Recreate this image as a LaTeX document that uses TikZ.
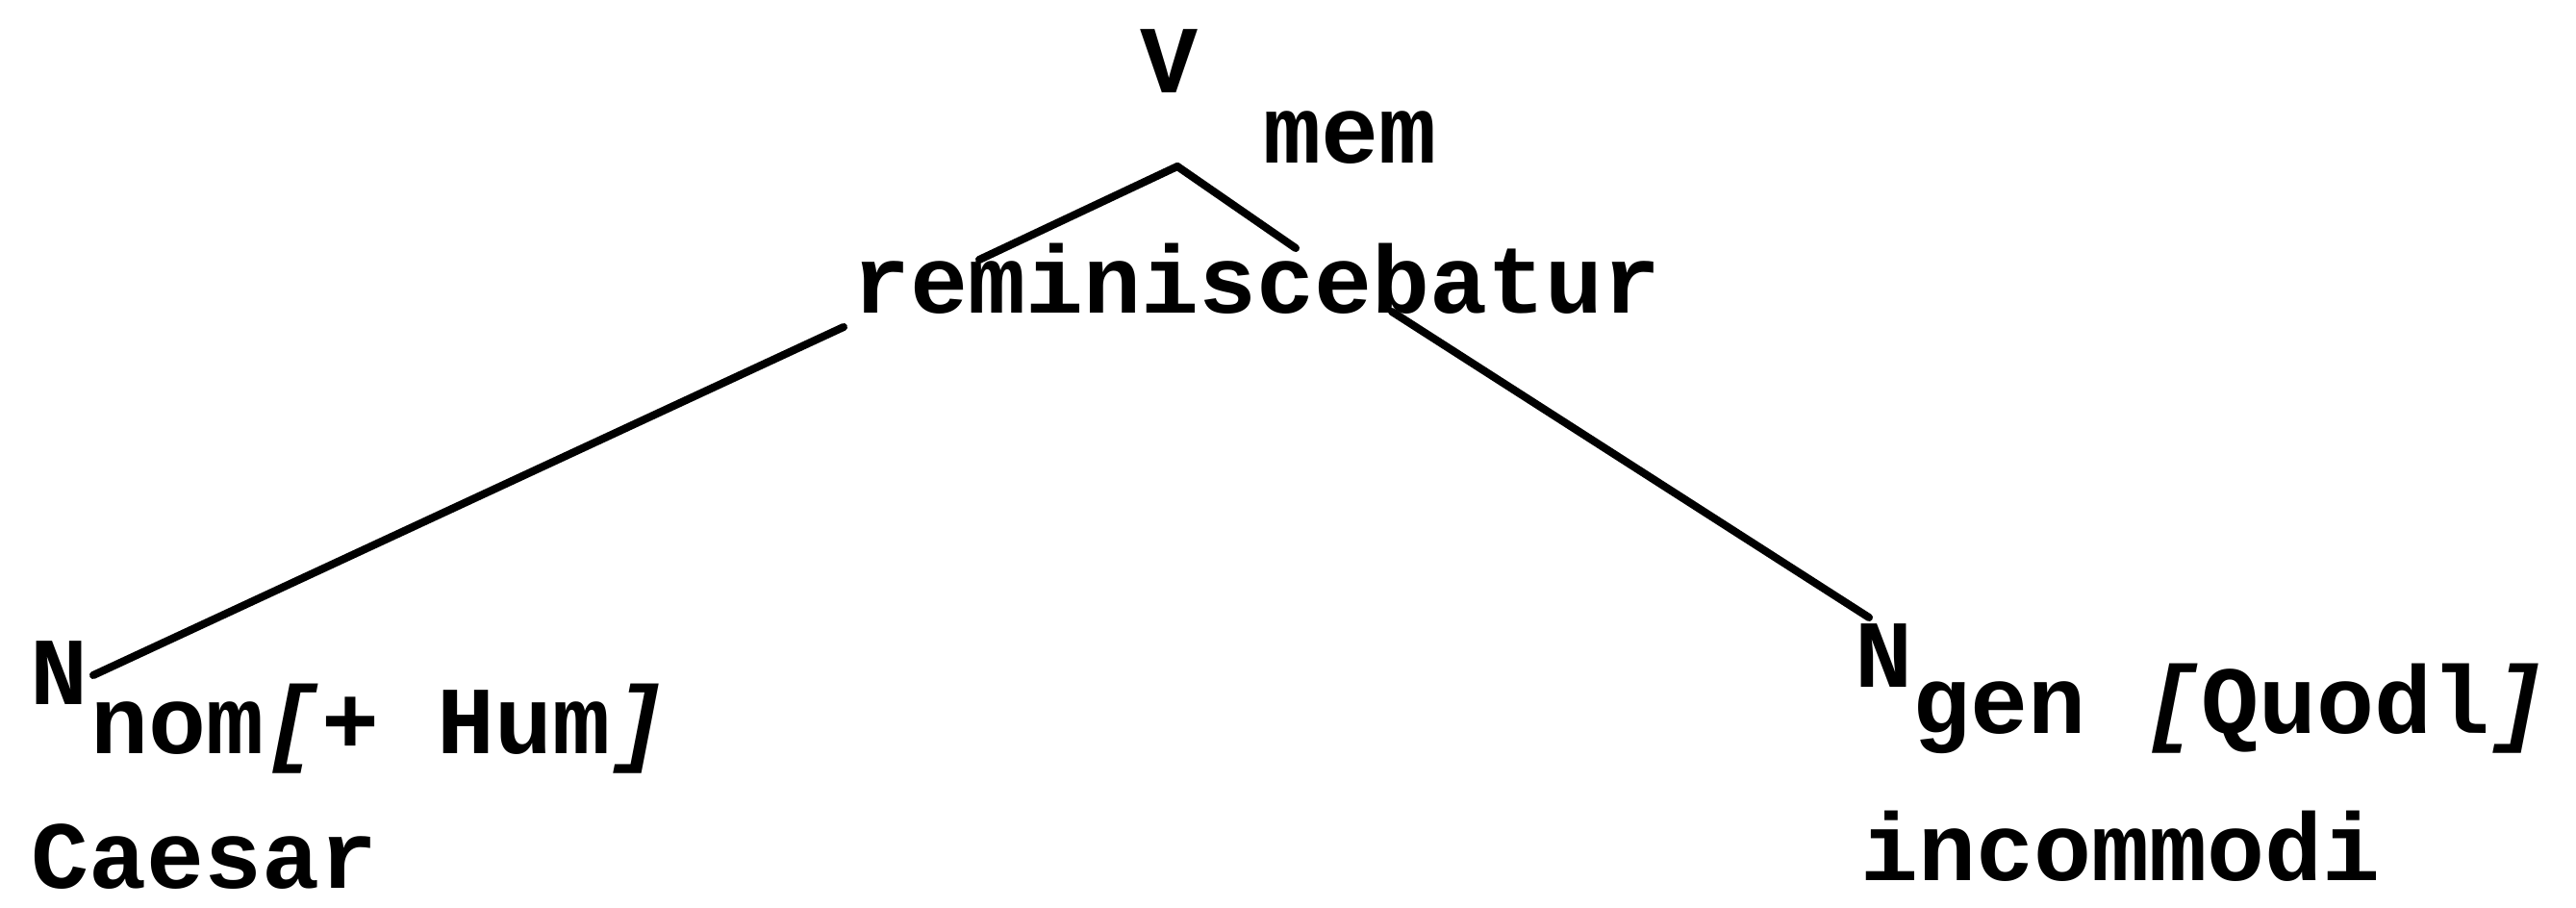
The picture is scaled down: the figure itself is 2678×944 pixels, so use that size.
\documentclass[tikz,border=0pt]{standalone}
\usepackage{fontspec}
\setmonofont{Liberation Mono}
\tikzset{
  typed/.style={font=\ttfamily\bfseries\fontsize{28.45}{34}\selectfont, inner sep=0pt, anchor=base west},
  branch/.style={line width=2.3pt, line cap=round},
}
\begin{document}
\begin{tikzpicture}[x=0.1mm, y=-0.1mm]
\useasboundingbox (0,0) rectangle (2678,944);

% Verbe
\node[typed, anchor=base] (V) at (1215,97) {V};
\node[typed] (mem) at (1313,170) {mem};
\node[typed] (rem) at (886,326) {reminiscebatur};
\coordinate (apex) at (1224,173);
\coordinate (remleft) at (1018,270);
\coordinate (remright) at (1347,258);
\draw[branch] (apex) -- (remleft);
\draw[branch] (apex) -- (remright);

% Nominatif
\node[typed] (Nnom) at (31,733) {N};
\node[typed] (nom) at (94,784) {nom\textit{[}+ Hum\textit{]}};
\node[typed, text depth=0pt] (caesar) at (32,924) {Caesar};
\coordinate (remfoot) at (877,340);
\coordinate (Nnomtop) at (97,702);
\draw[branch] (remfoot) -- (Nnomtop);

% Genitif
\node[typed] (Ngen) at (1928,715) {N};
\node[typed] (gen) at (1988,763) {gen \textit{[}Quodl\textit{]}};
\node[typed, text depth=0pt] (incommodi) at (1934,916) {incommodi};
\coordinate (remb) at (1447,324);
\coordinate (Ngentop) at (1943,642);
\draw[branch] (remb) -- (Ngentop);

\end{tikzpicture}
\end{document}
